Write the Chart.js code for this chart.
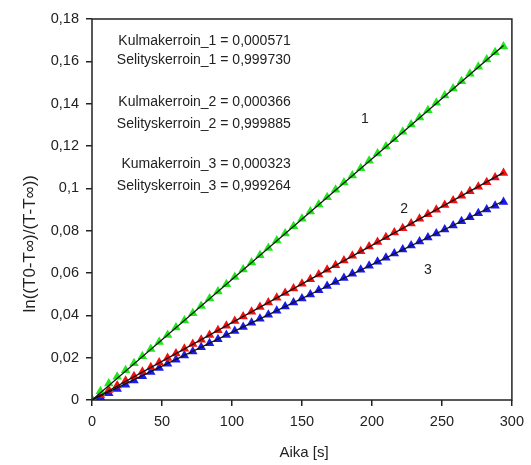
<!DOCTYPE html>
<html lang="fi">
<head>
  <meta charset="UTF-8" />
  <title>ln((T0-T∞)/(T-T∞))</title>
  <script src="https://cdn.jsdelivr.net/npm/chart.js"></script>
  <style>
    html, body { margin: 0; padding: 0; background: #fff; }
    #wrap { width: 531px; height: 465px; }
  </style>
</head>
<body>
  <div id="wrap"><canvas id="chart" width="531" height="465"></canvas></div>

  <script>
    // measurement times [s]
    const times = [0, 6, 12, 18, 24, 30, 36, 42, 48, 54, 60, 66, 72, 78, 84, 90, 96, 102, 108, 114,
      120, 126, 132, 138, 144, 150, 156, 162, 168, 174, 180, 186, 192, 198, 204, 210, 216, 222, 228, 234,
      240, 246, 252, 258, 264, 270, 276, 282, 288, 294];

    const series1 = [0.0000, 0.0041, 0.0078, 0.0110, 0.0141, 0.0174, 0.0207, 0.0241, 0.0274, 0.0307,
      0.0342, 0.0376, 0.0410, 0.0444, 0.0479, 0.0513, 0.0547, 0.0581, 0.0616, 0.0650,
      0.0684, 0.0718, 0.0753, 0.0787, 0.0821, 0.0856, 0.0890, 0.0924, 0.0958, 0.0993,
      0.1027, 0.1061, 0.1095, 0.1130, 0.1164, 0.1198, 0.1232, 0.1267, 0.1301, 0.1335,
      0.1369, 0.1404, 0.1438, 0.1472, 0.1506, 0.1541, 0.1575, 0.1609, 0.1643, 0.1670];

    const series2 = [0.0000, 0.0024, 0.0047, 0.0069, 0.0091, 0.0112, 0.0134, 0.0155, 0.0177, 0.0198,
      0.0220, 0.0242, 0.0264, 0.0285, 0.0307, 0.0329, 0.0351, 0.0373, 0.0395, 0.0417,
      0.0439, 0.0461, 0.0483, 0.0505, 0.0527, 0.0549, 0.0571, 0.0593, 0.0615, 0.0637,
      0.0659, 0.0681, 0.0703, 0.0725, 0.0747, 0.0769, 0.0791, 0.0812, 0.0834, 0.0856,
      0.0878, 0.0899, 0.0921, 0.0943, 0.0965, 0.0986, 0.1008, 0.1029, 0.1051, 0.1072];

    const series3 = [0.0000, 0.0013, 0.0032, 0.0052, 0.0072, 0.0092, 0.0112, 0.0132, 0.0151, 0.0171,
      0.0190, 0.0210, 0.0229, 0.0249, 0.0268, 0.0287, 0.0307, 0.0326, 0.0345, 0.0365,
      0.0384, 0.0403, 0.0422, 0.0442, 0.0461, 0.0480, 0.0499, 0.0519, 0.0538, 0.0557,
      0.0576, 0.0596, 0.0615, 0.0634, 0.0653, 0.0672, 0.0692, 0.0711, 0.0730, 0.0749,
      0.0768, 0.0787, 0.0806, 0.0825, 0.0844, 0.0863, 0.0882, 0.0900, 0.0918, 0.0935];

    // fitted lines, start and end points
    const fitTimes = [0, 294];
    const fit1 = [0.0000, 0.1675];
    const fit2 = [0.0000, 0.1074];
    const fit3 = [0.0000, 0.0940];

    const notes = [
      'Kulmakerroin_1 = 0,000571',
      'Selityskerroin_1 = 0,999730',
      'Kulmakerroin_2 = 0,000366',
      'Selityskerroin_2 = 0,999885',
      'Kumakerroin_3 = 0,000323',
      'Selityskerroin_3 = 0,999264'
    ];
    const noteY = [0.1696, 0.1606, 0.1408, 0.1304, 0.1115, 0.1011];
    const noteX = 142;

    const seriesLabels = ['1', '2', '3'];
    const labelX = [195, 223, 240];
    const labelY = [0.1325, 0.0900, 0.0612];

    const xTitle = 'Aika [s]';
    const yTitle = 'ln((T0-T∞)/(T-T∞))';

    const FONT = '"Liberation Sans", Arial, sans-serif';
    const toXY = (xs, ys) => xs.map((x, i) => ({ x: x, y: ys[i] }));

    const fitStyle = {
      showLine: true, borderColor: '#111', borderWidth: 1.3, pointRadius: 0, fill: false
    };

    const frame = {
      id: 'frame',
      afterDraw(chart) {
        const { ctx, chartArea: a, scales } = chart;
        ctx.save();
        ctx.strokeStyle = '#222';
        ctx.lineWidth = 1.5;
        ctx.strokeRect(a.left, a.top, a.right - a.left, a.bottom - a.top);

        ctx.font = '14px ' + FONT;
        ctx.fillStyle = '#222';
        ctx.textAlign = 'right';
        ctx.textBaseline = 'middle';
        notes.forEach((t, i) => {
          ctx.fillText(t, scales.x.getPixelForValue(noteX), scales.y.getPixelForValue(noteY[i]));
        });
        ctx.textAlign = 'center';
        seriesLabels.forEach((t, i) => {
          ctx.fillText(t, scales.x.getPixelForValue(labelX[i]), scales.y.getPixelForValue(labelY[i]));
        });

        // axis titles
        ctx.font = '15px ' + FONT;
        ctx.fillText(xTitle, a.left + (a.right - a.left) * 0.505, chart.height - 12);
        ctx.translate(30, a.top + (a.bottom - a.top) * 0.59);
        ctx.rotate(-Math.PI / 2);
        ctx.font = '17px ' + FONT;
        ctx.fillText(yTitle, 0, 0);
        ctx.restore();
      }
    };

    new Chart(document.getElementById('chart'), {
      type: 'scatter',
      data: {
        datasets: [
          Object.assign({ label: 'fit 1', data: toXY(fitTimes, fit1) }, fitStyle),
          Object.assign({ label: 'fit 2', data: toXY(fitTimes, fit2) }, fitStyle),
          Object.assign({ label: 'fit 3', data: toXY(fitTimes, fit3) }, fitStyle),
          {
            label: '1', data: toXY(times, series1), pointStyle: 'triangle',
            pointRadius: 5.5, backgroundColor: '#1ee81a', borderColor: '#1ee81a', borderWidth: 0
          },
          {
            label: '2', data: toXY(times, series2), pointStyle: 'triangle',
            pointRadius: 5.5, backgroundColor: '#f01010', borderColor: '#f01010', borderWidth: 0
          },
          {
            label: '3', data: toXY(times, series3), pointStyle: 'triangle',
            pointRadius: 5.5, backgroundColor: '#1a1aee', borderColor: '#1a1aee', borderWidth: 0
          }
        ]
      },
      options: {
        responsive: false,
        animation: false,
        layout: { padding: { left: 0, right: 16, top: 19, bottom: 0 } },
        plugins: { legend: { display: false }, tooltip: { enabled: false } },
        scales: {
          x: {
            type: 'linear', min: 0, max: 300,
            afterFit(s) { s.height = 65; },
            ticks: {
              stepSize: 50, color: '#222', padding: 7,
              font: { family: FONT, size: 14.5 }
            },
            grid: { drawOnChartArea: false, drawTicks: true, tickLength: 6, color: '#222', lineWidth: 1.5 },
            border: { display: false }
          },
          y: {
            type: 'linear', min: 0, max: 0.18,
            afterFit(s) { s.width = 92; },
            ticks: {
              stepSize: 0.02, color: '#222', padding: 7,
              font: { family: FONT, size: 14.5 },
              callback: v => String(Math.round(v * 100) / 100).replace('.', ',')
            },
            grid: { drawOnChartArea: false, drawTicks: true, tickLength: 6, color: '#222', lineWidth: 1.5 },
            border: { display: false }
          }
        }
      },
      plugins: [frame]
    });
  </script>
</body>
</html>
